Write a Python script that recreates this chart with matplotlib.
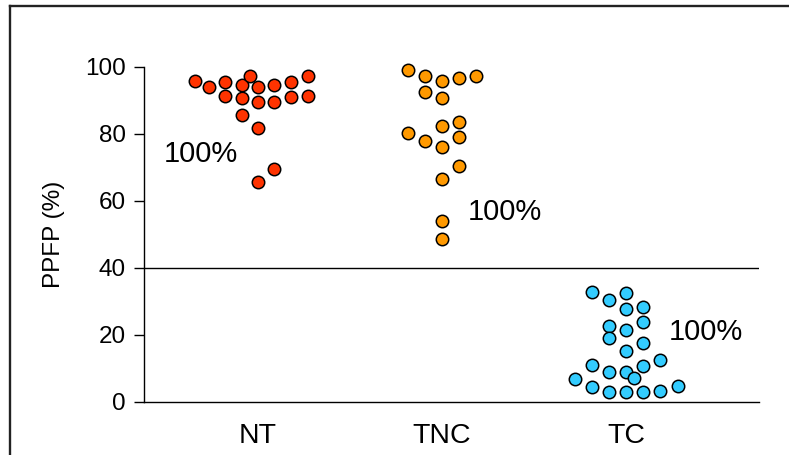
import numpy as np
import matplotlib
matplotlib.use("Agg")
import matplotlib.pyplot as plt
from matplotlib.lines import Line2D

plt.rcParams['font.family'] = ['Liberation Sans', 'DejaVu Sans']

# groups along the x axis
groups = ["NT", "TNC", "TC"]
colors = ["#FF3300", "#FF9900", "#33CCFF"]
pct_labels = ["100%", "100%", "100%"]

# PPFP values (%) per group
nt_vals = [95.9, 93.9, 95.5, 91.3, 94.7, 90.8, 85.6, 97.4, 93.9, 89.4,
           81.8, 65.5, 94.7, 89.6, 69.6, 95.5, 91.1, 97.4, 91.3]
tnc_vals = [99.0, 97.2, 95.9, 96.6, 97.3, 92.4, 90.6, 82.5, 83.5, 80.4,
            78.0, 76.2, 79.2, 70.3, 66.6, 54.0, 48.5]
tc_vals = [32.8, 30.4, 32.6, 27.6, 28.2, 23.9, 22.6, 21.4, 19.0, 17.6,
           15.2, 12.5, 10.9, 10.8, 8.8, 8.8, 7.2, 6.7, 4.5, 3.0,
           2.8, 3.0, 3.2, 4.7]

# swarm column of each dot (in dot widths from the group centre)
nt_slots = [-3.7, -2.9, -1.95, -1.95, -0.92, -0.92, -0.92, -0.44, 0, 0,
            0, 0, 1, 1, 1, 2, 2, 3, 3]
tnc_slots = [-2, -1, 0, 1, 2, -1, 0, 0, 1, -2, -1, 0, 1, 1, 0, 0, 0]
tc_slots = [-2, -1, 0, 0, 1, 1, -1, 0, -1, 1, 0, 2, -2, 1, -1, 0, 0.5,
            -3.05, -2, -1, 0, 1, 2, 3.07]

# where the percentage note sits: (x offset from group, y value)
label_pos = [(-0.31, 74.0), (0.343, 56.8), (0.434, 20.8)]

values = [nt_vals, tnc_vals, tc_vals]
slots = [nt_slots, tnc_slots, tc_slots]
slot_w = 0.0915

fig = plt.figure(figsize=(7.89, 4.55), dpi=100)
ax = fig.add_axes([144 / 789, 1 - 401.7 / 455, 615 / 789, 334.7 / 455])

for i, (vals, sl, col) in enumerate(zip(values, slots, colors)):
    xs = (i + 1) + np.array(sl) * slot_w
    ax.scatter(xs, vals, s=80, c=col, edgecolors="black", linewidths=1.1,
               zorder=3, clip_on=False)
    dx, ly = label_pos[i]
    ax.text(i + 1 + dx, ly, pct_labels[i], fontsize=21, ha="center",
            va="center")

ax.axhline(40, color="black", lw=1.0, zorder=1)

ax.set_xlim(0.383, 3.722)
ax.set_ylim(0, 100)
ax.set_yticks([0, 20, 40, 60, 80, 100])
ax.set_xticks([1, 2, 3])
ax.set_xticklabels(groups)
ax.tick_params(axis="y", length=7, width=1.0, labelsize=17.5, pad=6)
ax.tick_params(axis="x", length=0, labelsize=20.5, pad=15)
for side in ("top", "right"):
    ax.spines[side].set_visible(False)
for side in ("left", "bottom"):
    ax.spines[side].set_linewidth(1.0)
ax.set_ylabel("PPFP (%)", fontsize=17.5)
ax.yaxis.set_label_coords(-0.128, 0.5)

# outer frame: left and top edges
fig.add_artist(Line2D([10 / 789, 10 / 789], [0, 1 - 6 / 455],
                      transform=fig.transFigure, color="#222222", lw=1.7))
fig.add_artist(Line2D([10 / 789, 1], [1 - 6 / 455, 1 - 6 / 455],
                      transform=fig.transFigure, color="#222222", lw=1.7))

fig.savefig("out.png", dpi=100)
